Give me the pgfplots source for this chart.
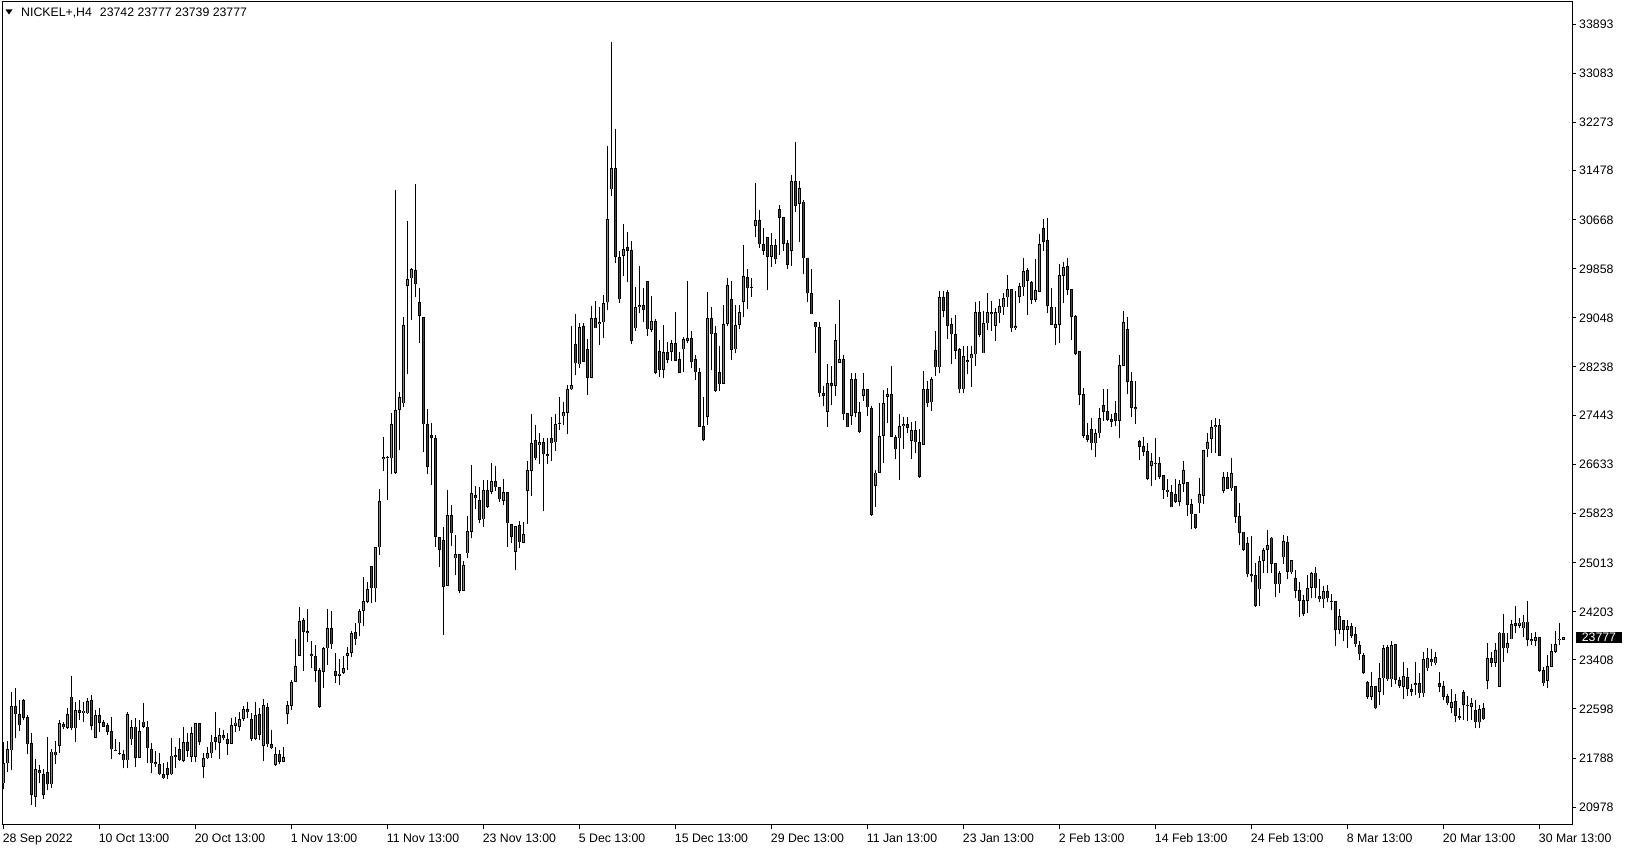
\documentclass[border=0pt]{standalone}
\usepackage{fontspec}
\setmainfont{Liberation Sans}
\usepackage{pgfplots}
\pgfplotsset{compat=1.18}
\usepackage{pgfplotstable}
\definecolor{bullc}{RGB}{0,230,0}
\definecolor{bearc}{RGB}{230,0,0}
\newcommand\mtfont{\fontsize{12.3bp}{14bp}\selectfont}
\pgfplotsset{nomark/.style={only marks, mark=*, mark size=0pt, mark options={draw=none, fill=none}}}
\pgfplotstableread{
i o h l c
0 21371 22059 21272 21701
1 21701 22075 21564 21938
2 21916 22873 21591 22647
3 22647 22939 22114 22510
4 22510 22746 22235 22328
5 22746 22763 22416 22455
6 22460 22499 21850 22015
7 22031 22196 21014 21179
8 21151 21767 20986 21608
9 21591 21674 21371 21536
10 21520 21608 21107 21179
11 21553 22141 21261 21355
12 21355 21938 21289 21894
13 21894 22075 21696 21833
14 21993 22416 21866 22361
15 22350 22389 22268 22295
16 22290 22609 22273 22515
17 22801 23142 22251 22279
18 22279 22719 22059 22581
19 22581 22746 22416 22537
20 22526 22719 22389 22570
21 22526 22774 22520 22730
22 22746 22823 22251 22317
23 22125 22581 22125 22499
24 22499 22609 22224 22373
25 22383 22416 22306 22306
26 22328 22361 22169 22224
27 22235 22471 21767 21932
28 21928 22103 21905 21910
29 21866 22059 21839 21850
30 21850 21921 21619 21751
31 21751 22553 21619 22510
32 22097 22416 22004 22295
33 22306 22444 21646 21795
34 21795 22416 21784 22235
35 22389 22691 22279 22306
36 22306 22400 21701 21949
37 21933 22031 21537 21702
38 21718 21905 21647 21685
39 21691 21867 21509 21520
40 21520 21702 21443 21454
41 21619 21718 21443 21509
42 21520 22114 21509 21828
43 21839 21977 21619 21800
44 21933 22125 21740 21757
45 21740 22307 21718 22048
46 22048 22197 21812 21905
47 21812 22307 21718 22197
48 21812 22372 21718 22362
49 22362 22372 22004 22059
50 21647 21867 21465 21784
51 21784 21977 21773 21867
52 21867 22169 21795 22059
53 22141 22554 21922 22059
54 22043 22290 21773 22169
55 22169 22252 22086 22114
56 22098 22197 21839 22026
57 22026 22455 22015 22334
58 22323 22472 22224 22373
59 22307 22543 22235 22433
60 22433 22653 22400 22598
61 22598 22708 22444 22543
62 22433 22526 22070 22103
63 22103 22708 22086 22499
64 22510 22609 22086 22169
65 21993 22763 21740 22664
66 22631 22692 21977 22015
67 22015 22252 21938 21949
68 21674 21977 21663 21850
69 21850 21921 21685 21729
70 21729 21977 21718 21806
71 22512 22730 22358 22660
72 22650 23073 22578 23035
73 23046 23750 23046 23304
74 23469 24272 23469 24047
75 24063 24091 23227 23871
76 23882 24239 23706 23854
77 23497 23722 23266 23474
78 23469 23651 23046 23227
79 23238 23266 22622 22633
80 23211 23623 22952 23596
81 23596 24239 23320 23926
82 23926 24211 23579 23662
83 23227 23529 23029 23145
84 23145 23430 22990 23183
85 23194 23469 23172 23266
86 23469 23612 23249 23524
87 23524 23887 23458 23843
88 23860 24019 23661 23744
89 24008 24239 23799 24211
90 24217 24767 23964 24382
91 24365 24684 24338 24569
92 24954 24954 24338 24585
93 24585 25273 24355 25273
94 25262 26225 25136 26027
95 26714 27086 26527 26758
96 26758 26767 26041 26729
97 26729 27471 26481 27295
98 26492 31156 26481 27526
99 27526 27829 26866 27735
100 27636 29066 27570 28928
101 29577 30650 28120 29682
102 29698 29874 29011 29847
103 29836 31255 29396 29600
104 29303 29533 28626 29077
105 29066 29066 26839 27290
106 27295 27537 26481 26591
107 27114 27306 26288 27070
108 27059 27114 25271 25436
109 25426 25426 24943 25218
110 25383 25591 23815 24613
111 24629 26207 24629 25795
112 25795 25960 25289 25493
113 25080 25465 24805 25146
114 25146 25146 24503 24547
115 24547 25036 24547 24970
116 25163 25779 25080 25531
117 25520 26620 25410 26153
118 26125 26274 25894 26070
119 26043 26263 25658 25713
120 25724 26373 25603 26208
121 26208 26373 25916 25933
122 26180 26659 26136 26356
123 26356 26604 26197 26252
124 26263 26263 26015 26054
125 26032 26389 25960 26169
126 26169 26169 25273 25658
127 25641 25641 25328 25438
128 25190 25619 24888 25619
129 25630 25696 25256 25344
130 25339 25674 25328 25482
131 26197 26686 25647 26538
132 26527 27462 26114 26977
133 27032 27280 26703 26730
134 26945 27143 26637 26994
135 26994 27060 25861 26796
136 26796 27060 26637 26774
137 27060 27418 26692 26978
138 26994 27462 26851 27291
139 27313 27748 27198 27291
140 27423 27654 27280 27489
141 27484 27940 27132 27869
142 27869 28913 27858 27940
143 28611 29106 28105 28298
144 28281 28958 28226 28892
145 28914 28958 28314 28325
146 28526 28691 27773 28064
147 28064 29241 28048 29038
148 29038 29329 28873 28873
149 28939 29219 28598 28972
150 28972 29423 28708 29296
151 29302 31881 29175 30671
152 31166 33592 31062 31513
153 31513 32162 29945 30055
154 30055 30149 29296 29351
155 30072 30589 29742 30187
156 30209 30457 29643 30149
157 30165 30314 28609 28664
158 28873 29549 28829 29230
159 29219 29901 29120 29252
160 29252 29544 28972 29175
161 29654 29654 28746 28856
162 28845 29406 28818 29000
163 28994 29021 28114 28141
164 28504 28680 28075 28185
165 28185 28928 28048 28488
166 28488 28642 28295 28350
167 28488 28680 28334 28625
168 28625 29137 28334 28334
169 28361 28488 28130 28141
170 28526 28735 28158 28691
171 28669 29654 28625 28708
172 28708 28829 28213 28312
173 28361 28433 28031 28147
174 28147 28213 27250 27250
175 27261 27745 27019 27030
176 27415 29478 27278 29038
177 29038 29219 28185 28774
178 28790 28911 27828 27844
179 28147 28581 27844 27949
180 27965 29258 27965 28944
181 28944 29698 28911 29588
182 29358 29659 28351 28516
183 28527 29258 28461 28929
184 28929 29258 28862 29138
185 29314 30249 29066 29737
186 29715 29847 29193 29534
187 29561 29710 29396 29534
188 30568 31277 30375 30661
189 30661 30826 30194 30260
190 30260 30535 30083 30155
191 30375 30375 29506 30056
192 30056 30452 29891 30249
193 30249 30342 29935 30012
194 30842 30909 30083 30700
195 30705 30705 30155 30265
196 30276 30331 29853 29918
197 30155 31403 29902 31305
198 31305 31942 30798 30897
199 30925 31305 30304 31184
200 30963 30991 29770 30028
201 30039 30039 29313 29451
202 29451 29847 29104 29104
203 28973 28984 28472 28890
204 28890 28973 27746 27801
205 27801 27922 27592 27763
206 27498 28280 27251 27966
207 27966 28252 27609 27928
208 27928 28945 27757 28681
209 28307 29341 28307 28362
210 28362 28434 27361 27454
211 27471 27471 27240 27240
212 27427 28142 27278 28038
213 28038 28142 27405 27482
214 27487 27663 27152 27168
215 27762 28131 27680 27872
216 27872 27872 27427 27570
217 27564 27592 25782 25793
218 26272 26547 25931 26497
219 26492 27647 26492 27097
220 27097 27856 26646 27636
221 27746 27884 27317 27784
222 27784 28252 27075 27086
223 27086 27114 26712 26877
224 27059 27454 26371 27267
225 27267 27405 26893 27290
226 27290 27405 27141 27234
227 27020 27323 26728 27196
228 27196 27345 26811 26993
229 26993 27207 26415 26426
230 26959 28170 26959 27867
231 27867 28004 27570 27636
232 27652 28065 27515 28038
233 28516 28830 28093 28230
234 28230 29495 28131 29385
235 29385 29495 29055 29165
236 29468 29506 28692 28917
237 28940 29039 28280 28775
238 28775 29094 28362 28505
239 28527 28555 27801 27867
240 27867 28588 27801 28417
241 28351 28588 28114 28312
242 28378 28588 27911 28445
243 28445 29313 28257 29137
244 29137 29324 28736 28764
245 28461 29159 28461 28956
246 28956 29451 28846 29137
247 29137 29324 28830 29110
248 28912 29214 28670 29137
249 29121 29352 28967 29242
250 29220 29451 29094 29368
251 29385 29753 29231 29517
252 29517 29517 28819 28874
253 28874 29490 28846 28912
254 29396 29622 29297 29572
255 29550 30029 29407 29819
256 29836 29863 29094 29660
257 29643 29660 29275 29341
258 29341 30012 29313 29506
259 29478 30430 29478 30265
260 30524 30678 30155 30303
261 30331 30689 29121 29247
262 29220 29545 28928 28928
263 28885 29220 28598 28945
264 28928 29935 28626 29753
265 29743 29974 29297 29880
266 29902 30040 29423 29506
267 29517 29517 28681 29066
268 29077 29094 28434 28450
269 28500 28500 27608 27774
270 27785 27895 27059 27097
271 27114 27317 26993 27031
272 27207 27389 26866 26976
273 26976 27207 26756 27141
274 27141 27553 27070 27389
275 27608 27867 27350 27498
276 27510 27867 27350 27361
277 27377 27454 27251 27333
278 27471 27674 27262 27350
279 27350 28433 27070 28268
280 28257 29159 28257 28972
281 28863 29055 27790 27994
282 28005 28148 27416 27565
283 27570 28005 27295 27537
284 27014 27031 26701 26921
285 26932 27086 26767 26838
286 26849 26976 26371 26387
287 26607 26811 26277 26684
288 26662 27070 26371 26635
289 26646 26745 26387 26426
290 26453 26453 26068 26217
291 26217 26387 26096 26170
292 26171 26292 25923 25923
293 26138 26385 26000 26017
294 26017 26374 25945 26303
295 26308 26687 26182 26539
296 26336 26336 25780 25962
297 25973 26055 25560 25808
298 25808 25808 25566 25588
299 25989 26401 25835 26143
300 26116 26869 25973 26869
301 26880 27144 26759 26995
302 27045 27364 26825 27243
303 27243 27391 26825 27281
304 27281 27380 26775 26775
305 26193 26512 26154 26418
306 26418 26501 26226 26226
307 26237 26732 26193 26484
308 26275 26275 25670 25769
309 25780 25989 25302 25505
310 25522 25522 25208 25219
311 25329 25439 24779 24817
312 24823 25450 24697 24796
313 24806 25000 24284 24300
314 24570 25120 24300 25038
315 25038 25246 24834 25219
316 25219 25549 24834 25302
317 25423 25439 24845 24988
318 25000 25000 24438 24653
319 24653 24873 24504 24834
320 25098 25466 24982 25368
321 25346 25456 24735 24862
322 24851 25054 24818 25054
323 24752 24889 24422 24548
324 24559 24696 24119 24378
325 24394 24476 24136 24163
326 24378 24807 24174 24587
327 24600 24863 24423 24840
328 24846 24945 24423 24588
329 24461 24742 24368 24406
330 24406 24626 24258 24544
331 24544 24643 24357 24423
332 24379 24494 24230 24357
333 24379 24379 23642 23900
334 23900 24247 23834 24131
335 24065 24065 23719 23900
336 23900 24065 23598 23966
337 23966 24021 23774 23801
338 23829 23944 23625 23664
339 23653 23719 23405 23499
340 23488 23515 23174 23196
341 23037 23064 22762 22800
342 22800 23213 22745 22976
343 22976 22976 22597 22608
344 22882 23361 22663 23103
345 23103 23653 22828 23598
346 23614 23653 23064 23086
347 23086 23719 22965 23653
348 23664 23664 23009 23075
349 23075 23130 22938 22981
350 22965 23366 22756 23141
351 23119 23268 22816 22927
352 22921 23009 22816 22882
353 23020 23372 22828 22998
354 23020 23185 22783 22855
355 22855 23531 22800 23422
356 23268 23598 23229 23433
357 23416 23587 23306 23367
358 23350 23531 23322 23460
359 23020 23213 22882 22965
360 22976 23059 22745 22800
361 22811 22839 22663 22690
362 22619 22921 22525 22718
363 22724 22844 22382 22480
364 22475 22607 22415 22454
365 22883 22910 22415 22663
366 22663 22811 22404 22646
367 22635 22772 22415 22690
368 22580 22745 22278 22377
369 22377 22663 22278 22597
370 22619 22690 22415 22426
371 23058 23680 22921 23433
372 23433 23543 23295 23361
373 23361 23680 23295 23570
374 22965 23873 22954 23856
375 23856 24164 23378 23598
376 23598 23845 23515 23680
377 23746 24065 23746 23999
378 24010 24302 23845 23966
379 23966 24093 23928 24021
380 23928 24148 23790 24038
381 24038 24379 23636 23735
382 23746 23845 23653 23724
383 23719 23873 23636 23779
384 23779 23779 23213 23229
385 23240 23295 22982 23020
386 23059 23488 22938 23306
387 23295 23669 23295 23554
388 23543 23889 23526 23669
389 23730 24010 23653 23760
390 23742 23777 23739 23777
}\ohlc
\begin{document}
\begin{tikzpicture}
\path[use as bounding box] (0bp,0bp) rectangle (1629bp,850bp);
\begin{axis}[
  at={(2bp,25bp)}, anchor=south west,
  scale only axis, width=1570bp, height=823bp,
  xmin=-0.425, xmax=392.075, ymin=20685, ymax=34256,
  axis line style={black, line width=1bp},
  xtick={0,24,...,384},
  xticklabels={28 Sep 2022,10 Oct 13:00,20 Oct 13:00,1 Nov 13:00,11 Nov 13:00,23 Nov 13:00,5 Dec 13:00,15 Dec 13:00,29 Dec 13:00,11 Jan 13:00,23 Jan 13:00,2 Feb 13:00,14 Feb 13:00,24 Feb 13:00,8 Mar 13:00,20 Mar 13:00,30 Mar 13:00},
  ytick={20978,21788,22598,23408,24203,25013,25823,26633,27443,28238,29048,29858,30668,31478,32273,33083,33893},
  yticklabels={20978,21788,22598,23408,24203,25013,25823,26633,27443,28238,29048,29858,30668,31478,32273,33083,33893},
  xtick pos=left, ytick pos=right, yticklabel pos=right,
  tick align=outside, major tick length=4bp,
  tick style={black, line width=1bp},
  xticklabel style={font=\mtfont, anchor=north west, inner sep=0pt, text height=9bp, text depth=0pt, xshift=-1bp, yshift=-4bp},
  yticklabel style={font=\mtfont, anchor=west, inner sep=0pt, text height=9bp, text depth=0pt, xshift=3bp},
  clip=true,
]
% wicks
\addplot[nomark, forget plot,
  error bars/.cd, y dir=plus, y explicit, error mark=none,
  error bar style={draw=black, line width=1bp}]
  table[x=i, y=l, y error expr=\thisrow{h}-\thisrow{l}] {\ohlc};
% bull bodies outline
\addplot[nomark, forget plot,
  restrict expr to domain={\thisrow{c}-\thisrow{o}}{0:100000},
  error bars/.cd, y dir=plus, y explicit, error mark=none,
  error bar style={draw=black, line width=3bp}]
  table[x=i, y=o, y error expr=\thisrow{c}-\thisrow{o}] {\ohlc};
% bear bodies outline
\addplot[nomark, forget plot,
  restrict expr to domain={\thisrow{o}-\thisrow{c}}{0.5:100000},
  error bars/.cd, y dir=plus, y explicit, error mark=none,
  error bar style={draw=black, line width=3bp}]
  table[x=i, y=c, y error expr=\thisrow{o}-\thisrow{c}] {\ohlc};
% bull fill
\addplot[nomark, forget plot,
  restrict expr to domain={\thisrow{c}-\thisrow{o}}{0:100000},
  error bars/.cd, y dir=plus, y explicit, error mark=none,
  error bar style={draw=bullc, line width=1.1bp, shorten <=0.8bp, shorten >=0.8bp}]
  table[x=i, y=o, y error expr=\thisrow{c}-\thisrow{o}] {\ohlc};
% bear fill
\addplot[nomark, forget plot,
  restrict expr to domain={\thisrow{o}-\thisrow{c}}{0.5:100000},
  error bars/.cd, y dir=plus, y explicit, error mark=none,
  error bar style={draw=bearc, line width=1.1bp, shorten <=0.8bp, shorten >=0.8bp}]
  table[x=i, y=c, y error expr=\thisrow{o}-\thisrow{c}] {\ohlc};
\coordinate (cp) at (axis cs:392.075,23777);
\end{axis}
\node[fill=black, text=white, font=\mtfont, anchor=west, inner xsep=5.9bp, inner ysep=1bp, text height=9bp, text depth=0pt, xshift=3.7bp] at (cp) {23777};
\fill (5.5bp,840.5bp) -- (12.5bp,840.5bp) -- (9bp,835.5bp) -- cycle;
\node[anchor=base west, inner sep=0pt, font=\mtfont] at (21bp,833.5bp) {NICKEL+,H4\hspace{8bp}23742 23777 23739 23777};
\end{tikzpicture}
\end{document}
